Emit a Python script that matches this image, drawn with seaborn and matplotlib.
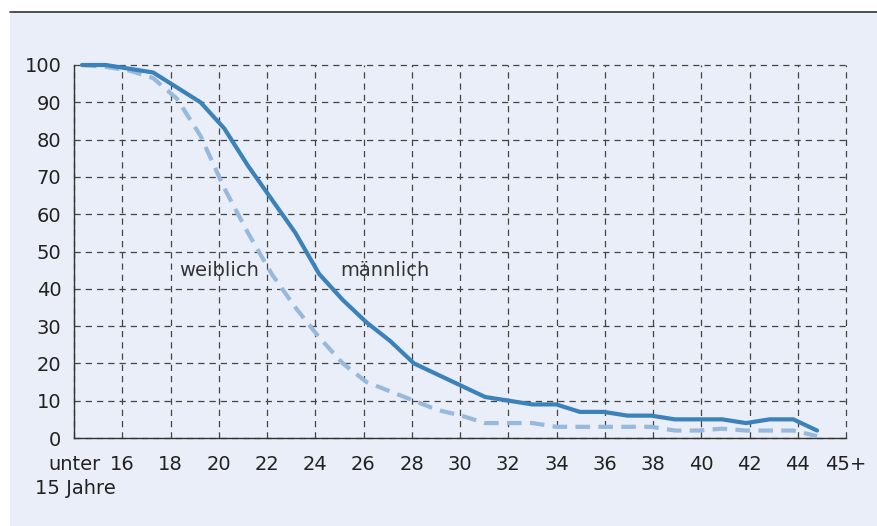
import matplotlib
matplotlib.use("Agg")
import matplotlib.pyplot as plt
import numpy as np
import pandas as pd
import seaborn as sns
from matplotlib.patches import Rectangle
from matplotlib.lines import Line2D

# Anteil (%) nach Alter, von "unter 15" bis 45
ages = list(range(14, 46))
maennlich = [100, 100, 99, 98, 94, 90, 83, 73, 64, 55, 44, 37, 31, 26, 20, 17,
             14, 11, 10, 9, 9, 7, 7, 6, 6, 5, 5, 5, 4, 5, 5, 2]
weiblich = [100, 99.5, 98.5, 96.5, 91, 81, 67, 55, 44, 35, 27, 20, 15, 12.5, 10, 7.5,
            6, 4, 4, 4, 3, 3, 3, 3, 3, 2, 2, 2.5, 2, 2, 2, 0.5]

tick_pos = list(range(14, 47, 2))
tick_labels = ["unter"] + [str(t) for t in range(16, 45, 2)] + ["45+"]

sns.set_theme(style="white")
plt.rcParams["font.family"] = ["DejaVu Sans"]
fs = 14

bg = "#e9eef8"
fig = plt.figure(figsize=(8.77, 5.26), dpi=100, facecolor="white")
fig.patches.append(Rectangle((10 / 877, 0), 1, (526 - 12) / 526, transform=fig.transFigure,
                             facecolor=bg, edgecolor="none", zorder=-10))
fig.lines.append(Line2D([10 / 877, 1], [(526 - 12) / 526] * 2, transform=fig.transFigure,
                        color="#333333", lw=1.2, zorder=-5))

ax = fig.add_axes([74 / 877, 88 / 526, 772 / 877, 373 / 526])
ax.set_facecolor(bg)

# points sit slightly off the year ticks in the original
pos = np.linspace(14.33, 44.8, len(ages))
df = pd.DataFrame({"pos": pos, "m": maennlich, "w": weiblich})

sns.lineplot(data=df, x="pos", y="w", ax=ax, color="#97b9dc", lw=3,
             linestyle=(0, (3.5, 2)), clip_on=False, zorder=3)
sns.lineplot(data=df, x="pos", y="m", ax=ax, color="#3a82b9", lw=3,
             clip_on=False, zorder=4)

ax.set_xlim(14, 46)
ax.set_ylim(0, 100)
ax.set_xticks(tick_pos)
ax.set_xticklabels(tick_labels, fontsize=fs, color="#222222")
ax.set_yticks(range(0, 101, 10))
ax.set_yticklabels([str(v) for v in range(0, 101, 10)], fontsize=fs, color="#222222")

# second line of the first tick label
ax.annotate("15 Jahre", xy=(14, 0), xycoords=("data", "axes fraction"),
            xytext=(1, -51), textcoords="offset pixels", ha="center", va="center",
            fontsize=fs, color="#222222", annotation_clip=False)

ax.grid(True, color="#444444", linestyle=(0, (5, 4)), lw=0.9)
ax.set_axisbelow(True)
for g in ax.get_xgridlines() + ax.get_ygridlines():
    g.set_clip_on(False)
for s in ["top", "right"]:
    ax.spines[s].set_visible(False)
for s in ["left", "bottom"]:
    ax.spines[s].set_color("#333333")
    ax.spines[s].set_linewidth(1.0)

ax.tick_params(axis="x", direction="inout", length=9, width=1, color="#333333", pad=8)
ax.tick_params(axis="y", direction="out", length=6, width=1, color="#333333", pad=3)
ax.set_xlabel("")
ax.set_ylabel("")

ax.text(20.0, 45, "weiblich", fontsize=fs, color="#333333", ha="center", va="center")
ax.text(26.9, 45, "männlich", fontsize=fs, color="#333333", ha="center", va="center")

fig.savefig("out.png", dpi=100, facecolor=fig.get_facecolor())
